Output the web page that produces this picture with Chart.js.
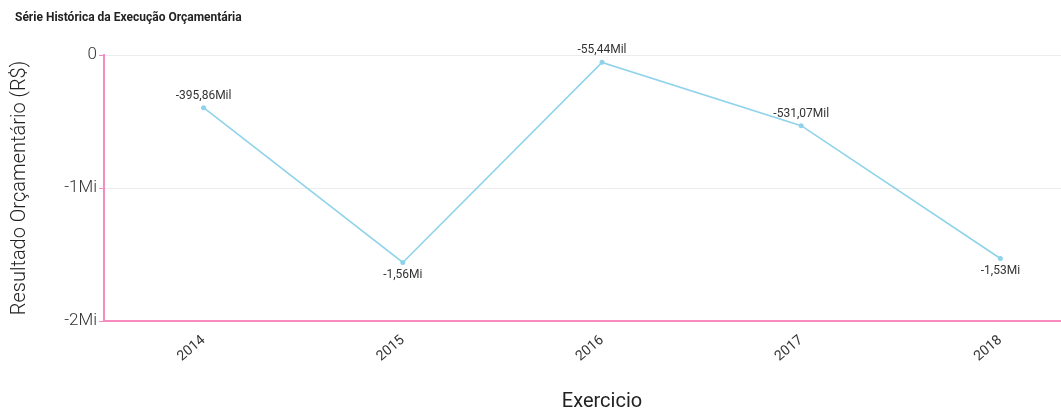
<!DOCTYPE html>
<html>
<head>
<meta charset="utf-8">
<script src="https://cdn.jsdelivr.net/npm/chart.js@4"></script>
<style>
    body { margin: 0; background: #fff; }
    #wrap { position: relative; width: 1061px; height: 412px; overflow: hidden; }
    #inner { position: absolute; left: 0; top: 0; width: 1104px; height: 412px; }
    #title { position: absolute; left: 15px; top: 10px; font: bold 12px Roboto, sans-serif; color: #222; z-index: 2; }
</style>
</head>
<body>
<div id="wrap">
    <div id="title">Série Histórica da Execução Orçamentária</div>
    <div id="inner"><canvas id="chart"></canvas></div>
</div>
<script>
const years = ['2014', '2015', '2016', '2017', '2018'];
const resultado = [-395860, -1560000, -55440, -531070, -1530000];
const yTicks = [0, -1000000, -2000000];

const pink = '#f78bc0';
const lineBlue = '#8fd3ea';

function fmtValue(v) {
    if (Math.abs(v) >= 1000000) {
        return (v / 1000000).toFixed(2).replace('.', ',') + 'Mi';
    }
    return (v / 1000).toFixed(2).replace('.', ',') + 'Mil';
}

// rotulos de valor acima/abaixo dos pontos
const valueLabels = {
    id: 'valueLabels',
    afterDatasetsDraw(chart) {
        const ctx = chart.ctx;
        const meta = chart.getDatasetMeta(0);
        ctx.save();
        ctx.font = '12px Roboto, sans-serif';
        ctx.fillStyle = '#333';
        ctx.textAlign = 'center';
        meta.data.forEach((pt, i) => {
            const v = resultado[i];
            const prev = i > 0 ? resultado[i - 1] : resultado[i + 1];
            const next = i < resultado.length - 1 ? resultado[i + 1] : resultado[i - 1];
            if (v < (prev + next) / 2) {
                ctx.textBaseline = 'top';
                ctx.fillText(fmtValue(v), pt.x, pt.y + 7);
            } else {
                ctx.textBaseline = 'bottom';
                ctx.fillText(fmtValue(v), pt.x, pt.y - 6);
            }
        });
        ctx.restore();
    }
};

new Chart(document.getElementById('chart'), {
    type: 'line',
    data: {
        labels: years,
        datasets: [{
            data: resultado,
            borderColor: lineBlue,
            backgroundColor: lineBlue,
            borderWidth: 1.6,
            pointRadius: 2.5,
            pointBorderWidth: 0,
            tension: 0
        }]
    },
    options: {
        responsive: true,
        maintainAspectRatio: false,
        animation: false,
        layout: { padding: { top: 55, left: 0, right: 0, bottom: 0 } },
        plugins: {
            legend: { display: false },
            tooltip: { enabled: false }
        },
        scales: {
            x: {
                offset: true,
                afterFit(scale) { scale.height = 91; },
                ticks: {
                    autoSkip: false,
                    minRotation: 40,
                    maxRotation: 40,
                    color: '#333',
                    font: { size: 14, family: 'Roboto, sans-serif' }
                },
                grid: { display: false },
                border: { color: pink, width: 2 },
                title: {
                    display: true,
                    text: 'Exercicio',
                    color: '#222',
                    font: { size: 20, family: 'Roboto, sans-serif', lineHeight: 1 },
                    padding: { top: 0, bottom: 0 }
                }
            },
            y: {
                min: -2000000,
                max: 0,
                afterBuildTicks(scale) {
                    scale.ticks = yTicks.map(v => ({ value: v }));
                },
                afterFit(scale) { scale.width = 104; },
                ticks: {
                    color: '#333',
                    padding: 2,
                    font: { size: 17, family: 'Roboto, sans-serif', weight: '300' },
                    callback: v => v === 0 ? '0' : (v / 1000000) + 'Mi'
                },
                grid: {
                    color: '#ececec',
                    tickColor: pink,
                    tickLength: 5
                },
                border: { color: pink, width: 2 },
                title: {
                    display: true,
                    text: 'Resultado Orçamentário (R$)',
                    color: '#222',
                    font: { size: 20, family: 'Roboto, sans-serif', weight: '300', lineHeight: 1.2 },
                    padding: { top: 8, bottom: 0 }
                }
            }
        }
    },
    plugins: [valueLabels]
});
</script>
</body>
</html>
